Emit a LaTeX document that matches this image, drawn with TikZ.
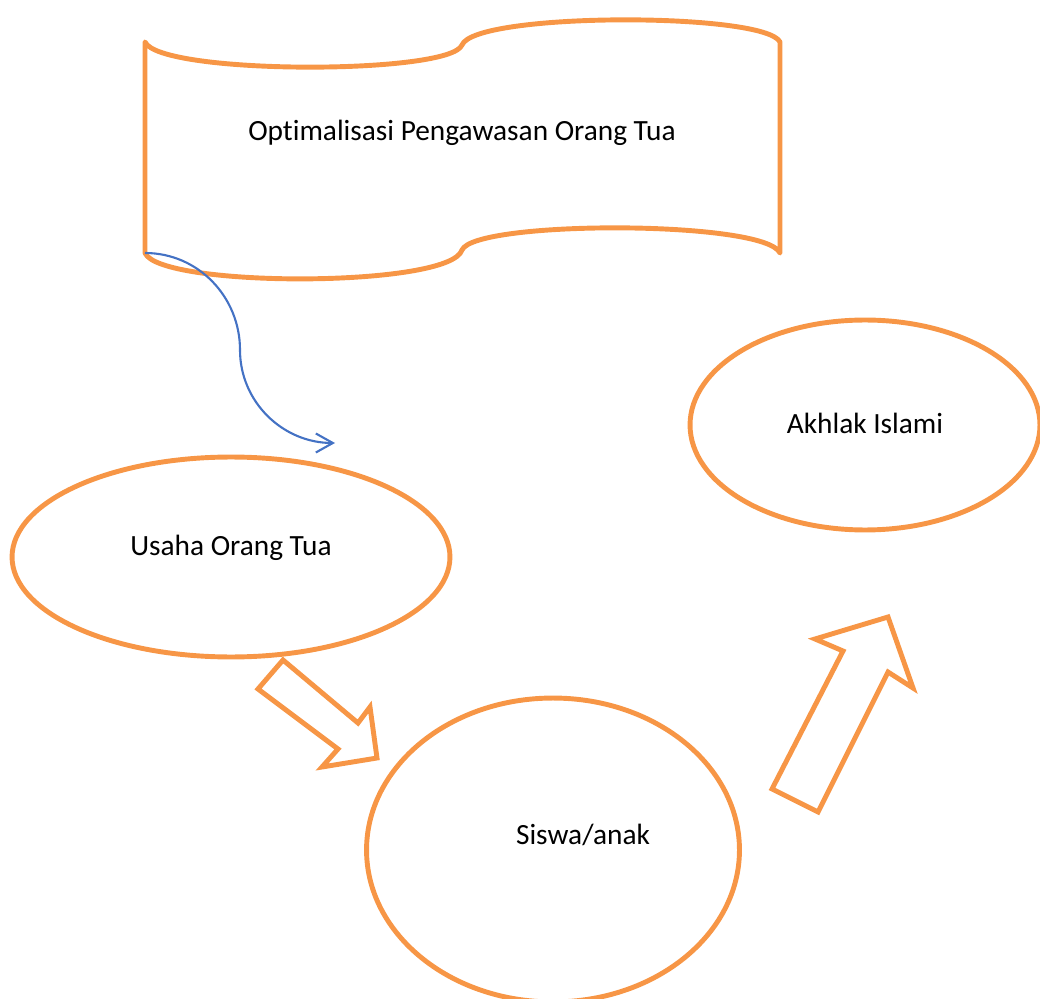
\documentclass[tikz,border=0pt]{standalone}
\usepackage{fontspec}
\setmainfont{Carlito}[Ligatures=NoCommon]
\usetikzlibrary{shapes.geometric, arrows.meta}
\definecolor{oranye}{RGB}{247,150,70}
\definecolor{biru}{RGB}{68,114,196}

\begin{document}
\begin{tikzpicture}[x=0.02cm, y=-0.02cm, font=\fontsize{16.7}{20}\selectfont,
	garis/.style = {draw=oranye, line width=2.8pt, line join=round},
	bulat/.style = {garis, ellipse, inner sep=0pt},
	panah/.style = {garis, line join=miter}]
	\useasboundingbox (0,0) rectangle (1040,999);
	% spanduk
	\draw[garis] (145,42) .. controls (160,75) and (450,75) .. (462,45)
		.. controls (475,12) and (765,12) .. (780,42) -- (780,253)
		.. controls (765,220) and (475,220) .. (462,250)
		.. controls (450,288) and (160,288) .. (145,253) -- cycle;
	\node (judul) at (462,133) {Optimalisasi Pengawasan Orang Tua};
	\node[bulat, minimum width=8.76cm, minimum height=4cm,
		label={[yshift=0.18cm]center:Usaha Orang Tua}] (usaha) at (231,557) {};
	\node[bulat, minimum width=7cm, minimum height=4.2cm,
		label={[yshift=0.04cm]center:Akhlak Islami}] (akhlak) at (865,425) {};
	\node[bulat, minimum width=7.46cm, minimum height=6.08cm,
		label={[xshift=0.6cm, yshift=0.3cm]center:Siswa/anak}] (siswa) at (553,850) {};
	% panah biru
	\coordinate (pojok) at (145,253);
	\coordinate (belok) at (240,350);
	\coordinate (ujung) at (335,443);
	\draw[biru, line width=1.2pt, -{Straight Barb[length=3.4mm, width=3.8mm]}]
		(pojok) to[out=0, in=90] (belok) to[out=-90, in=180] (ujung);
	% panah blok
	\draw[panah] (258,689) -- (283,660) -- (358,723) -- (370,707) -- (377,758)
		-- (322,767) -- (338,749) -- cycle;
	\draw[panah] (772,789) -- (818,812) -- (888,672) -- (913,688) -- (888,617)
		-- (815,639) -- (843,651) -- cycle;
\end{tikzpicture}
\end{document}
